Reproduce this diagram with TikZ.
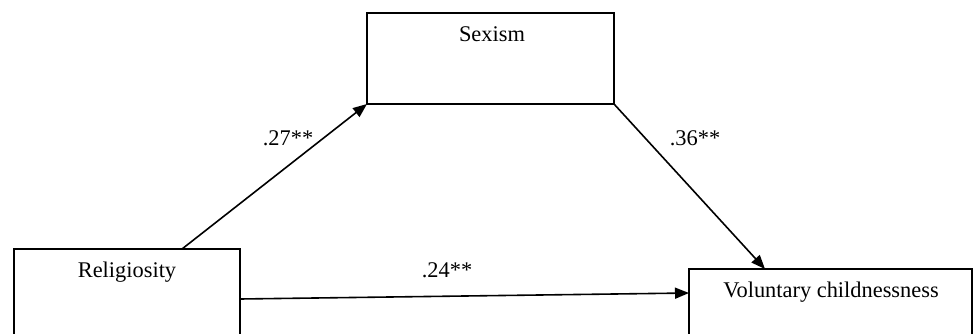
\documentclass[tikz,border=0pt]{standalone}
\usepackage{fontspec}
\setmainfont{Liberation Serif}
\usetikzlibrary{arrows.meta}
\begin{document}
\begin{tikzpicture}[x=1pt,y=1pt,
  boxnode/.style={draw,line width=1.6pt,rectangle,inner sep=0pt,outer sep=0pt,anchor=north west},
  txt/.style={anchor=base,inner sep=0pt,font=\fontsize{22.4}{26}\selectfont},
  arr/.style={line width=1.6pt,-{Triangle[length=14pt,width=11pt]}}]
\useasboundingbox (0,0) rectangle (974,333);
\clip (0,0) rectangle (974,333);
\node[boxnode,minimum width=247pt,minimum height=91pt] (sex) at (367,320) {};
\node[boxnode,minimum width=226pt,minimum height=110pt] (rel) at (14,84) {};
\node[boxnode,minimum width=283pt,minimum height=90pt] (vol) at (689,64) {};
\node[txt] (sexT) at (492,291) {Sexism};
\node[txt] (relT) at (127,56) {Religiosity};
\node[txt] (volT) at (831,36) {Voluntary childnessness};
\draw[arr] ([xshift=168pt]rel.north west) -- (sex.south west);
\draw[arr] (sex.south east) -- ([xshift=76pt]vol.north west);
\draw[arr] ([yshift=-50pt]rel.north east) -- ([yshift=-24pt]vol.north west);
\node[txt] (l1) at (288,188) {.27**};
\node[txt] (l2) at (695,188) {.36**};
\node[txt] (l3) at (447,56) {.24**};
\end{tikzpicture}
\end{document}
